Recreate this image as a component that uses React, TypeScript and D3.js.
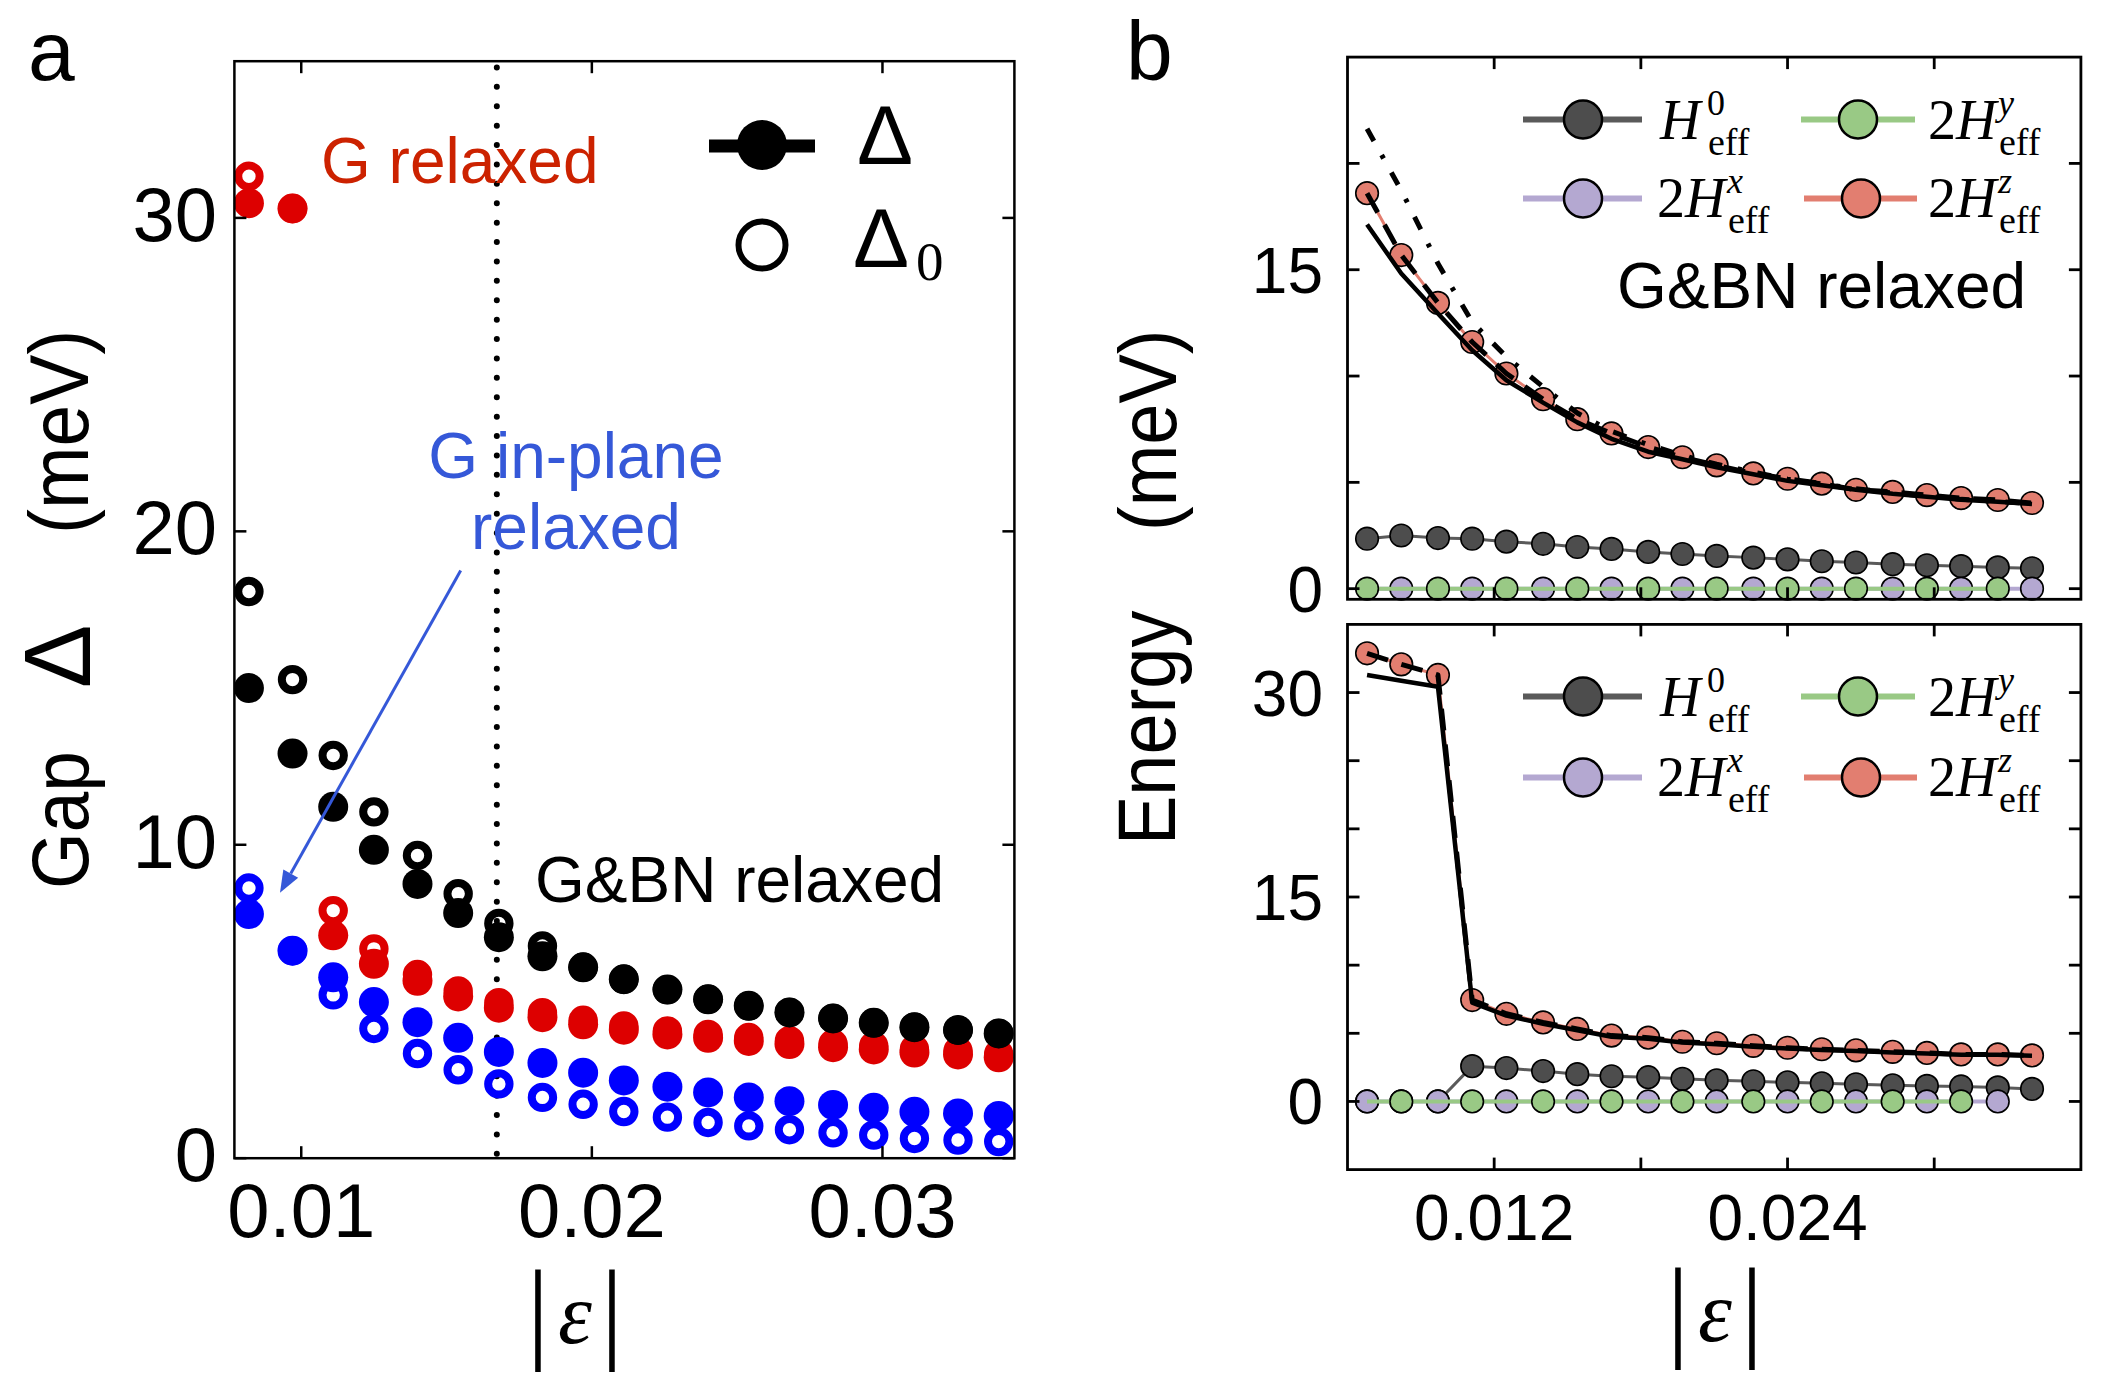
import React from "react";
import * as d3 from "d3";

// ---------------- Panel a data ----------------
const strainA = [0.0082, 0.0097, 0.0111, 0.0125, 0.014, 0.0154, 0.0168, 0.0183, 0.0197, 0.0211, 0.0226, 0.024, 0.0254, 0.0268, 0.0283, 0.0297, 0.0311, 0.0326, 0.034];
// G&BN relaxed (black)
const gbnGap = [15.0, 12.91, 11.21, 9.84, 8.75, 7.82, 7.05, 6.44, 6.09, 5.71, 5.38, 5.07, 4.86, 4.65, 4.46, 4.32, 4.18, 4.09, 3.98];
const gbnGap0 = [18.08, 15.27, 12.85, 11.05, 9.66, 8.44, 7.49, 6.77, 6.09, 5.71, 5.38, 5.07, 4.86, 4.65, 4.46, 4.32, 4.18, 4.09, 3.98];
// G relaxed (red)
const gRelGap = [30.47, 30.3, 7.11, 6.2, 5.66, 5.16, 4.8, 4.5, 4.27, 4.1, 3.95, 3.84, 3.74, 3.64, 3.54, 3.47, 3.37, 3.31, 3.22];
const gRelGap0 = [31.33, 30.3, 7.9, 6.68, 5.86, 5.34, 4.96, 4.64, 4.4, 4.22, 4.06, 3.95, 3.85, 3.75, 3.65, 3.58, 3.48, 3.42, 3.33];
// G in-plane relaxed (blue)
const gIpGap = [7.79, 6.62, 5.77, 4.98, 4.34, 3.84, 3.39, 3.04, 2.73, 2.48, 2.28, 2.1, 1.94, 1.82, 1.7, 1.61, 1.48, 1.43, 1.35];
const gIpGap0 = [8.62, 6.62, 5.21, 4.14, 3.34, 2.82, 2.37, 1.94, 1.72, 1.49, 1.31, 1.14, 1.03, 0.91, 0.81, 0.74, 0.63, 0.58, 0.53];
const aXTicks = [0.01, 0.02, 0.03];
const aYTicks = [0, 10, 20, 30];
const criticalStrain = 0.01673;

// ---------------- Panel b data ----------------
const strainB = [0.0068, 0.0082, 0.0097, 0.0111, 0.0125, 0.014, 0.0154, 0.0168, 0.0183, 0.0197, 0.0211, 0.0226, 0.024, 0.0254, 0.0268, 0.0283, 0.0297, 0.0311, 0.0326, 0.034];
// top: G&BN relaxed
const h0Top = [2.35, 2.5, 2.38, 2.35, 2.21, 2.11, 1.96, 1.87, 1.73, 1.63, 1.54, 1.46, 1.38, 1.29, 1.23, 1.15, 1.1, 1.06, 1.0, 0.96];
const hxTop = [0, 0, 0, 0, 0, 0, 0, 0, 0, 0, 0, 0, 0, 0, 0, 0, 0, 0, 0, 0];
const hyTop = [0, 0, 0, 0, 0, 0, 0, 0, 0, 0, 0, 0, 0, 0, 0, 0, 0, 0, 0];
const hzTop = [18.6, 15.69, 13.44, 11.6, 10.12, 8.91, 7.97, 7.3, 6.66, 6.18, 5.8, 5.42, 5.17, 4.94, 4.65, 4.55, 4.4, 4.26, 4.17, 4.03];
const deltaFitTop = [17.13, 14.82, 12.94, 11.21, 9.8, 8.75, 7.82, 7.05, 6.44, 6.09, 5.71, 5.38, 5.07, 4.86, 4.65, 4.46, 4.32, 4.18, 4.09, 3.98];
const delta0FitTop = [21.63, 18.73, 15.29, 12.54, 10.9, 9.49, 8.26, 7.4, 6.77, 6.27, 5.85, 5.48, 5.15, 4.92, 4.7, 4.5, 4.35, 4.2, 4.1, 4.0];
// bottom: G relaxed
const h0Bot = [0, 0, 0, 2.59, 2.45, 2.23, 2.0, 1.85, 1.78, 1.66, 1.55, 1.48, 1.4, 1.33, 1.26, 1.18, 1.14, 1.1, 1.03, 0.92];
const hxBot = [0, 0, 0, 0, 0, 0, 0, 0, 0, 0, 0, 0, 0, 0, 0, 0, 0, 0, 0];
const hyBot = [0, 0, 0, 0, 0, 0, 0, 0, 0, 0, 0, 0, 0, 0, 0, 0, 0, 0];
const hzBot = [32.88, 32.07, 31.29, 7.44, 6.43, 5.8, 5.32, 4.83, 4.68, 4.38, 4.27, 4.08, 3.94, 3.83, 3.75, 3.64, 3.56, 3.45, 3.45, 3.38];
const deltaFitBot = [31.29, 30.86, 30.43, 7.25, 6.3, 5.7, 5.22, 4.75, 4.6, 4.32, 4.2, 4.02, 3.88, 3.78, 3.7, 3.6, 3.52, 3.42, 3.42, 3.35];
const bXTicks = [0.012, 0.018, 0.024, 0.03];
const bXLabels = [0.012, 0.024];
const bTopYTicks = [0, 5, 10, 15, 20];
const bTopYLabels = [0, 15];
const bBotYTicks = [0, 5, 10, 15, 20, 25, 30];
const bBotYLabels = [0, 15, 30];

const SANS = "'Liberation Sans', Arial, Helvetica, sans-serif";
const SERIF = "'Liberation Serif', 'Times New Roman', serif";

const RED = "#dd0000";
const BLUE = "#0000ff";
const RED_TXT = "#cc2200";
const BLUE_TXT = "#3558d8";
const C_GRAY = "#4d4d4d";
const C_GRAY_LINE = "#5a5a5a";
const C_GREEN = "#99c985";
const C_PURPLE = "#b4a8d1";
const C_ORANGE = "#e27e70";

type Scale = d3.ScaleLinear<number, number>;

function Axes({ sx, sy, xTicks, yTicks, lw = 2.5, tl = 12 }: { sx: Scale; sy: Scale; xTicks: number[]; yTicks: number[]; lw?: number; tl?: number }) {
  const [x0, x1] = sx.range();
  const [yb, yt] = sy.range();
  return (
    <g stroke="#000" strokeWidth={lw} fill="none">
      {xTicks.map((t) => (
        <g key={"x" + t}>
          <line x1={sx(t)} x2={sx(t)} y1={yb} y2={yb - tl} />
          <line x1={sx(t)} x2={sx(t)} y1={yt} y2={yt + tl} />
        </g>
      ))}
      {yTicks.map((t) => (
        <g key={"y" + t}>
          <line x1={x0} x2={x0 + tl} y1={sy(t)} y2={sy(t)} />
          <line x1={x1} x2={x1 - tl} y1={sy(t)} y2={sy(t)} />
        </g>
      ))}
      <rect x={x0} y={yt} width={x1 - x0} height={yb - yt} />
    </g>
  );
}

function Dots({ xs, ys, sx, sy, r, fill, stroke = "none", sw = 0, keep }: { xs: number[]; ys: number[]; sx: Scale; sy: Scale; r: number; fill: string; stroke?: string; sw?: number; keep?: (i: number) => boolean }) {
  return (
    <g>
      {ys.map((v, i) =>
        keep && !keep(i) ? null : (
          <circle key={i} cx={sx(xs[i])} cy={sy(v)} r={r} fill={fill} stroke={stroke} strokeWidth={sw} />
        )
      )}
    </g>
  );
}

function Line({ xs, ys, sx, sy, stroke, sw, dash }: { xs: number[]; ys: number[]; sx: Scale; sy: Scale; stroke: string; sw: number; dash?: string }) {
  const gen = d3
    .line<number>()
    .x((_, i) => sx(xs[i]))
    .y((d) => sy(d));
  return <path d={gen(ys) || ""} fill="none" stroke={stroke} strokeWidth={sw} strokeDasharray={dash} strokeLinejoin="round" />;
}

function HLabel({ x, y, two, sup }: { x: number; y: number; two: boolean; sup: string }) {
  const hEnd = two ? x + 70 : x + 47;
  return (
    <text x={x} y={y} fontSize={56} fontFamily={SERIF} fill="#000">
      {two ? "2" : ""}
      <tspan fontStyle="italic">H</tspan>
      <tspan x={hEnd} y={y - 24} fontSize={36} fontStyle={sup === "0" ? "normal" : "italic"}>
        {sup}
      </tspan>
      <tspan x={hEnd + 1} y={y + 16} fontSize={38} fontStyle="normal">
        eff
      </tspan>
    </text>
  );
}

function LegendEntry({ x1, x2, cx, cy, color, lineColor }: { x1: number; x2: number; cx: number; cy: number; color: string; lineColor: string }) {
  return (
    <g>
      <line x1={x1} x2={x2} y1={cy} y2={cy} stroke={lineColor} strokeWidth={6} />
      <circle cx={cx} cy={cy} r={19} fill={color} stroke="#000" strokeWidth={2.5} />
    </g>
  );
}

function LegendB({ y1, y2 }: { y1: number; y2: number }) {
  return (
    <g>
      <LegendEntry x1={1523} x2={1642} cx={1583} cy={y1} color={C_GRAY} lineColor={C_GRAY_LINE} />
      <HLabel x={1660} y={y1 + 19} two={false} sup="0" />
      <LegendEntry x1={1801} x2={1915} cx={1858} cy={y1} color={C_GREEN} lineColor={C_GREEN} />
      <HLabel x={1928} y={y1 + 19} two={true} sup="y" />
      <LegendEntry x1={1523} x2={1642} cx={1583} cy={y2} color={C_PURPLE} lineColor={C_PURPLE} />
      <HLabel x={1657} y={y2 + 18} two={true} sup="x" />
      <LegendEntry x1={1804} x2={1917} cx={1861} cy={y2} color={C_ORANGE} lineColor={C_ORANGE} />
      <HLabel x={1928} y={y2 + 18} two={true} sup="z" />
    </g>
  );
}

function EpsLabel({ cx, yBase }: { cx: number; yBase: number }) {
  return (
    <g fill="#000" fontFamily={SERIF}>
      <text x={cx - 37} y={yBase + 5} fontSize={112} textAnchor="middle">|</text>
      <text x={cx} y={yBase} fontSize={86} fontStyle="italic" textAnchor="middle">ε</text>
      <text x={cx + 37} y={yBase + 5} fontSize={112} textAnchor="middle">|</text>
    </g>
  );
}

export default function App() {
  const ax = d3.scaleLinear().domain([0.0077, 0.03454]).range([234.4, 1014.4]);
  const ay = d3.scaleLinear().domain([0, 35]).range([1158.2, 61.2]);
  const bx = d3.scaleLinear().domain([0.006, 0.036]).range([1347.5, 2080.9]);
  const byT = d3.scaleLinear().domain([-0.5, 25]).range([599.3, 57.1]);
  const byB = d3.scaleLinear().domain([-5, 35]).range([1169.6, 624.4]);
  const fmt2 = d3.format(".2f");
  const fmt3 = d3.format(".3f");

  // arrow (data coordinates of panel a)
  const arrowFrom: [number, number] = [0.015487, 18.75];
  const arrowTo: [number, number] = [0.009269, 8.47];
  const p0 = [ax(arrowFrom[0]), ay(arrowFrom[1])];
  const p1 = [ax(arrowTo[0]), ay(arrowTo[1])];
  const dx = p1[0] - p0[0];
  const dy = p1[1] - p0[1];
  const len = Math.hypot(dx, dy);
  const ux = dx / len;
  const uy = dy / len;
  const hl = 22;
  const hw = 8.5;
  const base = [p1[0] - ux * hl, p1[1] - uy * hl];
  const head = `${p1[0]},${p1[1]} ${base[0] - uy * hw},${base[1] + ux * hw} ${base[0] + uy * hw},${base[1] - ux * hw}`;

  const rA = 15;
  const rOpen = 10.7;
  const swOpen = 8;
  const rB = 11.3;

  return (
    <svg width={2103} height={1396} viewBox="0 0 2103 1396" style={{ position: "absolute", left: 0, top: 0, background: "#fff" }} fontFamily={SANS}>
      <rect x={0} y={0} width={2103} height={1396} fill="#fff" />

      {/* ================= Panel a ================= */}
      <text x={28} y={80} fontSize={84} fontFamily={SANS}>a</text>

      {/* dotted critical line */}
      <line x1={ax(criticalStrain)} x2={ax(criticalStrain)} y1={ay(34.8)} y2={ay(0.1)} stroke="#000" strokeWidth={6} strokeDasharray="0 19.4" strokeLinecap="round" />

      {/* blue */}
      <Dots xs={strainA} ys={gIpGap0} sx={ax} sy={ay} r={rOpen} fill="none" stroke={BLUE} sw={swOpen} />
      <Dots xs={strainA} ys={gIpGap} sx={ax} sy={ay} r={rA} fill={BLUE} />
      {/* red */}
      <Dots xs={strainA} ys={gRelGap0} sx={ax} sy={ay} r={rOpen} fill="none" stroke={RED} sw={swOpen} />
      <Dots xs={strainA} ys={gRelGap} sx={ax} sy={ay} r={rA} fill={RED} />
      {/* black */}
      <Dots xs={strainA} ys={gbnGap0} sx={ax} sy={ay} r={rOpen} fill="none" stroke="#000" sw={swOpen} />
      <Dots xs={strainA} ys={gbnGap} sx={ax} sy={ay} r={rA} fill="#000" />

      {/* arrow */}
      <line x1={p0[0]} y1={p0[1]} x2={base[0]} y2={base[1]} stroke={BLUE_TXT} strokeWidth={3} />
      <polygon points={head} fill={BLUE_TXT} />

      {/* annotations */}
      <text x={321} y={183} fontSize={64} fill={RED_TXT}>G relaxed</text>
      <text x={576} y={478} fontSize={64} fill={BLUE_TXT} textAnchor="middle">G in-plane</text>
      <text x={576} y={549} fontSize={64} fill={BLUE_TXT} textAnchor="middle">relaxed</text>
      <text x={535} y={902} fontSize={64} fill="#000">G&amp;BN relaxed</text>

      {/* legend a */}
      <line x1={709} x2={815} y1={146} y2={146} stroke="#000" strokeWidth={13} />
      <circle cx={762} cy={145} r={25} fill="#000" />
      <circle cx={762} cy={245} r={23.5} fill="none" stroke="#000" strokeWidth={6} />
      <text x={857} y={164} fontSize={84} fontFamily={SANS}>Δ</text>
      <text x={853} y={267} fontSize={84} fontFamily={SANS}>
        Δ
        <tspan x={916} y={280} fontSize={55} fontFamily={SERIF}>0</tspan>
      </text>

      <Axes sx={ax} sy={ay} xTicks={aXTicks} yTicks={aYTicks} lw={2.5} />
      {aYTicks.map((t) => (
        <text key={t} x={217} y={ay(t) + 23} fontSize={76} textAnchor="end">{t}</text>
      ))}
      {aXTicks.map((t) => (
        <text key={t} x={ax(t)} y={1237} fontSize={76} textAnchor="middle">{fmt2(t)}</text>
      ))}

      {/* y label a */}
      <text transform="translate(88,889) rotate(-90) scale(1,1.1)" fontSize={73}>Gap</text>
      <text transform="translate(90,688) rotate(-90)" fontSize={95}>Δ</text>
      <text transform="translate(88,534) rotate(-90) scale(1,1.1)" fontSize={75}>(meV)</text>
      <EpsLabel cx={575} yBase={1343} />

      {/* ================= Panel b ================= */}
      <text x={1126} y={80} fontSize={84}>b</text>

      {/* top subplot */}
      <Line xs={strainB} ys={h0Top} sx={bx} sy={byT} stroke={C_GRAY_LINE} sw={3} />
      <Dots xs={strainB} ys={h0Top} sx={bx} sy={byT} r={rB} fill={C_GRAY} stroke="#000" sw={1.6} />
      <Line xs={strainB} ys={hxTop} sx={bx} sy={byT} stroke={C_PURPLE} sw={4} />
      <Dots xs={strainB} ys={hxTop} sx={bx} sy={byT} r={rB} fill={C_PURPLE} stroke="#000" sw={1.6} keep={(i) => i % 2 === 1} />
      <Line xs={strainB} ys={hyTop} sx={bx} sy={byT} stroke={C_GREEN} sw={4} />
      <Dots xs={strainB} ys={hyTop} sx={bx} sy={byT} r={rB} fill={C_GREEN} stroke="#000" sw={1.6} keep={(i) => i % 2 === 0} />
      <Line xs={strainB} ys={hzTop} sx={bx} sy={byT} stroke={C_ORANGE} sw={3} />
      <Dots xs={strainB} ys={hzTop} sx={bx} sy={byT} r={rB} fill={C_ORANGE} stroke="#000" sw={1.6} />
      <Line xs={strainB} ys={deltaFitTop} sx={bx} sy={byT} stroke="#000" sw={4.5} />
      <Line xs={strainB} ys={delta0FitTop} sx={bx} sy={byT} stroke="#000" sw={5} dash="14 16 4 16" />
      <Line xs={strainB} ys={hzTop} sx={bx} sy={byT} stroke="#000" sw={5} dash="22 14" />

      <LegendB y1={119.5} y2={198.5} />
      <text x={1617} y={308} fontSize={64}>G&amp;BN relaxed</text>

      <Axes sx={bx} sy={byT} xTicks={bXTicks} yTicks={bTopYTicks} lw={2.8} />
      {bTopYLabels.map((t) => (
        <text key={t} x={1323} y={byT(t) + 23} fontSize={64} textAnchor="end">{t}</text>
      ))}

      {/* bottom subplot */}
      <Line xs={strainB} ys={h0Bot} sx={bx} sy={byB} stroke={C_GRAY_LINE} sw={3} />
      <Dots xs={strainB} ys={h0Bot} sx={bx} sy={byB} r={rB} fill={C_GRAY} stroke="#000" sw={1.6} />
      <Line xs={strainB} ys={hxBot} sx={bx} sy={byB} stroke={C_PURPLE} sw={4} />
      <Dots xs={strainB} ys={hxBot} sx={bx} sy={byB} r={rB} fill={C_PURPLE} stroke="#000" sw={1.6} keep={(i) => i % 2 === 0} />
      <Line xs={strainB} ys={hyBot} sx={bx} sy={byB} stroke={C_GREEN} sw={4} />
      <Dots xs={strainB} ys={hyBot} sx={bx} sy={byB} r={rB} fill={C_GREEN} stroke="#000" sw={1.6} keep={(i) => i % 2 === 1} />
      <Line xs={strainB} ys={hzBot} sx={bx} sy={byB} stroke={C_ORANGE} sw={3} />
      <Dots xs={strainB} ys={hzBot} sx={bx} sy={byB} r={rB} fill={C_ORANGE} stroke="#000" sw={1.6} />
      <Line xs={strainB} ys={deltaFitBot} sx={bx} sy={byB} stroke="#000" sw={4.5} />
      <Line xs={strainB} ys={hzBot} sx={bx} sy={byB} stroke="#000" sw={5} dash="22 14" />

      <LegendB y1={696.5} y2={777.5} />

      <Axes sx={bx} sy={byB} xTicks={bXTicks} yTicks={bBotYTicks} lw={2.8} />
      {bBotYLabels.map((t) => (
        <text key={t} x={1323} y={byB(t) + 23} fontSize={64} textAnchor="end">{t}</text>
      ))}
      {bXLabels.map((t) => (
        <text key={t} x={bx(t)} y={1240} fontSize={64} textAnchor="middle">{fmt3(t)}</text>
      ))}

      {/* y label b */}
      <text transform="translate(1175,845) rotate(-90) scale(1,1.1)" fontSize={74}>Energy</text>
      <text transform="translate(1176,531) rotate(-90) scale(1,1.1)" fontSize={74}>(meV)</text>
      <EpsLabel cx={1715} yBase={1341} />
    </svg>
  );
}
